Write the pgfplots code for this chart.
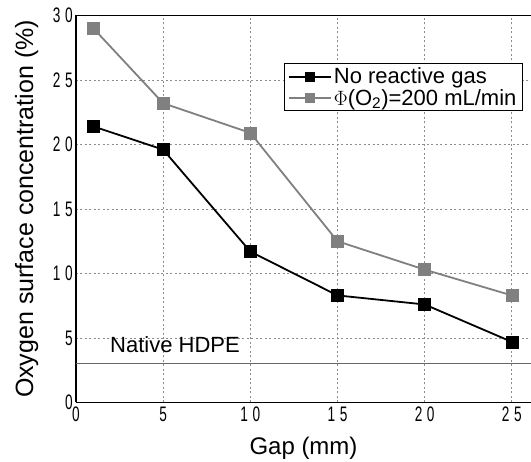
\documentclass[border=0pt]{standalone}
\usepackage{pgfplots}
\pgfplotsset{compat=1.18}
\usepackage{fontspec}
\setmainfont{Liberation Sans}
\definecolor{sergray}{HTML}{808080}
\definecolor{gridgray}{HTML}{8C8C8C}
\newcommand{\tk}[2]{#1\hspace{7pt}#2}
\begin{document}
\begin{tikzpicture}
\useasboundingbox (-76pt,-59.5pt) rectangle (455pt,402.5pt);
\begin{axis}[
  scale only axis,
  width=455pt, height=387pt,
  xmin=0, xmax=26.1, ymin=0, ymax=30,
  axis x line=box, axis y line=left,
  axis line style={line width=1.6pt, black, -},
  xtick={0,5,10,15,20,25},
  ytick={0,5,10,15,20,25,30},
  xticklabels={0,5,\tk{1}{0},\tk{1}{5},\tk{2}{0},\tk{2}{5}},
  yticklabels={0,5,\tk{1}{0},\tk{1}{5},\tk{2}{0},\tk{2}{5},\tk{3}{0}},
  major tick length=0pt,
  tick label style={font=\fontsize{21}{21}\selectfont, xscale=0.65, inner sep=1pt},
  xticklabel style={yshift=-3pt},
  yticklabel style={xshift=-4pt},
  grid=major,
  major grid style={gridgray, line width=0.9pt, dash pattern=on 2pt off 2.5pt},
  xlabel={Gap (mm)},
  ylabel={Oxygen surface concentration (\%)},
  xlabel style={font=\fontsize{24}{24}\selectfont, at={(axis description cs:0.5,-0.135)}, anchor=base},
  ylabel style={font=\fontsize{25}{25}\selectfont, at={(axis description cs:-0.0945,0.5)}, anchor=base},
  legend style={at={(axis description cs:0.982,0.876)}, anchor=north east,
    draw=black, line width=0.8pt, font=\fontsize{22}{24}\selectfont,
    inner xsep=4pt, inner ysep=2pt, row sep=0pt, fill=white},
  legend cell align=left,
  legend image code/.code={\draw[mark repeat=2, mark phase=2, #1, mark size=4.5pt]
     plot coordinates {(0pt,0pt)(21pt,0pt)(42pt,0pt)};},
]
\addplot[black, line width=1.8pt, mark=square*, mark size=6pt, mark options={solid, fill=black, line width=0.5pt}]
  coordinates {(1,21.4) (5,19.6) (10,11.7) (15,8.3) (20,7.6) (25,4.7)};
\addlegendentry{No reactive gas}
\addplot[sergray, line width=1.8pt, mark=square*, mark size=6pt, mark options={solid, fill=sergray, line width=0.5pt}]
  coordinates {(1,29.0) (5,23.2) (10,20.9) (15,12.5) (20,10.3) (25,8.3)};
\addlegendentry{$\Phi$(O\textsubscript{2})=200 mL/min}
\addplot[gray!80!black, line width=1pt, forget plot] coordinates {(0,3) (26.1,3)};
\node[anchor=base west, inner sep=0pt, font=\fontsize{22}{22}\selectfont] at (axis cs:1.95,3.85) {Native HDPE};
\end{axis}
\end{tikzpicture}
\end{document}
